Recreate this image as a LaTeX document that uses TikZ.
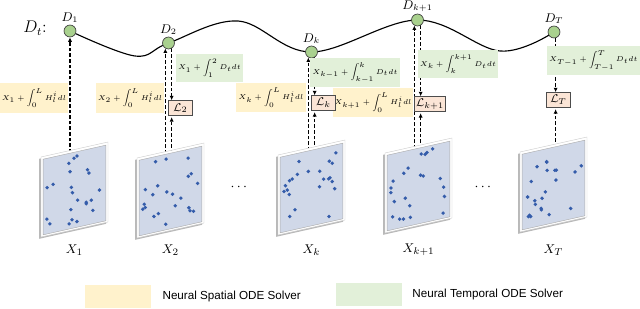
\documentclass[tikz,border=0pt]{standalone}
\usepackage{fontspec}
\newfontfamily\legendfont{Liberation Sans}
\usepackage{amsmath}
\usepackage{amssymb}
\usetikzlibrary{arrows.meta,positioning,calc,backgrounds}
\definecolor{dGreen}{RGB}{169,209,142}
\definecolor{spatFill}{RGB}{255,242,204}
\definecolor{tempFill}{RGB}{226,240,217}
\definecolor{lossFill}{RGB}{251,229,214}
\definecolor{panelFill}{RGB}{208,216,232}
\definecolor{dotBlue}{RGB}{52,92,170}
\tikzset{
  %% States on the trajectory
  dNode/.style={circle, draw=black!75, fill=dGreen, line width=0.5pt,
    minimum size=8.5pt, inner sep=0pt},
  dLab/.style={font=\fontsize{9}{10}\selectfont, inner sep=1pt},
  %% Solver boxes
  spatBox/.style={fill=spatFill, inner xsep=1.5pt, minimum height=21pt,
    font=\fontsize{5.5}{7}\selectfont},
  tempBox/.style={fill=tempFill, inner xsep=1.5pt, minimum height=19.5pt,
    font=\fontsize{5.5}{7}\selectfont},
  lossBox/.style={draw=black!70, fill=lossFill, line width=0.5pt,
    minimum width=17pt, minimum height=10.5pt, inner sep=1pt,
    font=\fontsize{8}{9}\selectfont},
  %% Flow arrows
  flow/.style={-{Latex[length=3.2pt,width=3pt]}, line width=0.8pt,
    dash pattern=on 2.5pt off 1.5pt},
  curveLine/.style={line width=0.8pt, black},
  xLab/.style={font=\fontsize{9.5}{11}\selectfont},
  %% Legend
  legSwatch/.style={minimum width=47pt, minimum height=16.3pt, inner sep=0pt},
  legText/.style={font=\legendfont\fontsize{8.3}{10}\selectfont, inner sep=0pt},
}

\begin{document}
\begin{tikzpicture}[x=0.025cm, y=-0.025cm]
\useasboundingbox (0,0) rectangle (640,309);

\node[font=\large] (dtLab) at (35,28) {$D_t$:};

\node[dNode, label={[dLab]above:$D_1$}]     (D1) at (70,31)    {};
\node[dNode, label={[dLab]above:$D_2$}]     (D2) at (168.5,43) {};
\node[dNode, label={[dLab]above:$D_k$}]     (Dk) at (311.5,52) {};
\node[dNode, label={[dLab]above:$D_{k+1}$}] (Dk1) at (417.5,20) {};
\node[dNode, label={[dLab]above:$D_T$}]     (DT) at (554,32)   {};

\node[spatBox] (S1) at (34,98)       {$\displaystyle X_1+\int_0^L H_l^i dl$};
\node[spatBox] (S2) at (130,98)      {$\displaystyle X_2+\int_0^L H_l^i dl$};
\node[spatBox] (Sk) at (271,97.5)    {$\displaystyle X_k+\int_0^L H_l^i dl$};
\node[spatBox, anchor=east, inner xsep=0.8pt] (Sk1) at (413,102.5) {$\displaystyle X_{k+1}+\int_0^L H_l^i dl$};

\node[tempBox] (T2) at (209.5,68)  {$\displaystyle X_1+\int_1^2 D_t dt$};
\node[tempBox] (Tk) at (355,72.5)  {$\displaystyle X_{k-1}+\int_{k-1}^k D_t dt$};
\node[tempBox] (Tk1) at (458,64)   {$\displaystyle X_k+\int_k^{k+1} D_t dt$};
\node[tempBox, anchor=east] (TT) at (640,60.5) {$\displaystyle X_{T-1}+\int_{T-1}^T D_t dt$};

\node[lossBox] (L2) at (180.5,108) {$\mathcal{L}_2$};
\node[lossBox] (Lk) at (323.5,103) {$\mathcal{L}_k$};
\node[lossBox] (Lk1) at (430,104) {$\mathcal{L}_{k+1}$};
\node[lossBox] (LT) at (558.5,100) {$\mathcal{L}_T$};

%% point-cloud panels
\pgfmathsetseed{23}
\foreach \px/\py/\lab [count=\n] in {41/157/X_1, 137/158/X_2, 278/155/X_k, 385/153/X_{k+1}, 520/152/X_T} {
  \fill[gray!55] (\px-1.8,\py+1.8) -- ++(67,-15) -- ++(0,80) -- ++(-67,15) -- cycle;
  \filldraw[draw=gray!40, fill=white, line width=0.3pt] (\px,\py) -- ++(67,-15) -- ++(0,80) -- ++(-67,15) -- cycle;
  \filldraw[draw=gray!65, fill=panelFill, line width=0.3pt] (\px+2.2,\py+2.2) -- ++(62.6,-14) -- ++(0,75.6) -- ++(-62.6,14) -- cycle;
  \foreach \i in {1,...,22} {
    \pgfmathsetmacro\u{0.08+0.84*rnd}
    \pgfmathsetmacro\v{0.08+0.84*rnd}
    \fill[dotBlue] (\px+67*\u, \py+80*\v-15*\u) circle[radius=1.9];
  }
  \coordinate (P\n) at (\px+33.5,\py-4.5);
  \node[xLab] (X\n) at (\px+33.5,250) {$\lab$};
}

\node (dotsA) at (240,187) {$\cdots$};
\node (dotsB) at (484,187) {$\cdots$};

\begin{scope}[on background layer]
\draw[curveLine] plot[smooth, tension=0.6] coordinates
  {(D1) (135,56) (D2) (238,21) (Dk) (Dk1) (500,51) (DT)};
\draw[flow] (D1.south |- P1) -- (D1.south);
\draw[flow] (D2.240 |- P2) -- (D2.240);
\draw[flow] (D2.300) -- (D2.300 |- L2.north);
\draw[flow, shorten >=1pt] (D2.300 |- P2) -- (D2.300 |- L2.south);
\draw[flow] (Dk.240 |- P3) -- (Dk.240);
\draw[flow] (Dk.300) -- (Dk.300 |- Lk.north);
\draw[flow, shorten >=1pt] (Dk.300 |- P3) -- (Dk.300 |- Lk.south);
\draw[flow] (Dk1.240 |- P4) -- (Dk1.240);
\draw[flow] (Dk1.300) -- (Dk1.300 |- Lk1.north);
\draw[flow, shorten >=1pt] (Dk1.300 |- P4) -- (Dk1.300 |- Lk1.south);
\draw[flow] (DT.285) -- (DT.285 |- LT.north);
\draw[flow, shorten >=1pt] (DT.285 |- P5) -- (DT.285 |- LT.south);
\end{scope}

%% legend
\node[legSwatch, fill=spatFill] (legS) at (118,296.5) {};
\node[legText, right=7.8pt of legS] (legSt) {Neural Spatial ODE Solver};
\node[legSwatch, fill=tempFill] (legT) at (369,294.5) {};
\node[legText, right=7pt of legT] (legTt) {Neural Temporal ODE Solver};

\end{tikzpicture}
\end{document}
